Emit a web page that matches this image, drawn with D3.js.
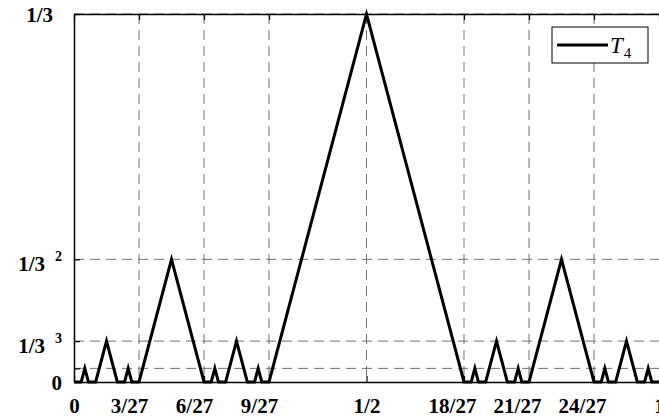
<!DOCTYPE html>
<html>
<head>
<meta charset="utf-8">
<script src="https://cdn.jsdelivr.net/npm/d3@7"></script>
<style>
  html, body { margin: 0; padding: 0; background: #fff; }
  svg { display: block; }
</style>
</head>
<body>
<svg id="chart" width="659" height="418"></svg>
<script>
// ---- data ----
// breakpoints of T_4: x in units of 1/162, y in units of 1/81
const xNumerators = [0,2,3,4,6,9,12,14,15,16,18,27,36,38,39,40,42,45,48,50,51,52,54,81,
                     108,110,111,112,114,117,120,122,123,124,126,135,144,146,147,148,150,153,156,158,159,160,162];
const yNumerators = [0,0,1,0,0,3,0,0,1,0,0,9,0,0,1,0,0,3,0,0,1,0,0,27,
                     0,0,1,0,0,3,0,0,1,0,0,9,0,0,1,0,0,3,0,0,1,0,0];
const xDenominator = 162;
const yDenominator = 81;

const xTickNumerators = [0, 6, 12, 18, 27, 36, 42, 48, 54]; // over 54
const xTickDenominator = 54;
const xTickLabels = ["0", "3/27", "6/27", "9/27", "1/2", "18/27", "21/27", "24/27", "1"];

const yTickNumerators = [0, 1, 3, 9, 27]; // over 81
const yTickLabels = ["0", "", "1/3", "1/3", "1/3"];
const yTickSupers = ["", "", "3", "2", ""];

const seriesName = "T";
const seriesSub = "4";

// ---- layout ----
const W = 659, H = 418;
const margin = { left: 74, top: 14, right: 0, bottom: 36 };
const pw = W - margin.left - margin.right;
const ph = H - margin.top - margin.bottom;

const svg = d3.select("#chart");
const g = svg.append("g").attr("transform", `translate(${margin.left},${margin.top})`);

const x = d3.scaleLinear().domain([0, 1]).range([0, pw]);
const y = d3.scaleLinear().domain([0, 1 / 3]).range([ph, 0]);

const xTicks = xTickNumerators.map(n => n / xTickDenominator);
const yTicks = yTickNumerators.map(n => n / yDenominator);

// grid
const gridColor = "#707070";
g.append("g").selectAll("line").data(xTicks.filter(v => v > 0 && v < 1)).join("line")
  .attr("x1", d => x(d)).attr("x2", d => x(d))
  .attr("y1", 0).attr("y2", ph)
  .attr("stroke", gridColor).attr("stroke-width", 1).attr("stroke-dasharray", "10,6");
g.append("g").selectAll("line").data(yTicks.filter(v => v > 0)).join("line")
  .attr("x1", 0).attr("x2", pw)
  .attr("y1", d => y(d)).attr("y2", d => y(d))
  .attr("stroke", gridColor).attr("stroke-width", 1).attr("stroke-dasharray", "10,6");

// data line
const pts = xNumerators.map((n, i) => [n / xDenominator, yNumerators[i] / yDenominator]);
const line = d3.line().x(d => x(d[0])).y(d => y(d[1]));
g.append("path").datum(pts)
  .attr("d", line)
  .attr("fill", "none").attr("stroke", "#000").attr("stroke-width", 3)
  .attr("stroke-linejoin", "miter");

// axes (inward ticks)
const labelFont = "'Liberation Serif', 'Times New Roman', serif";
const xAxis = d3.axisBottom(x).tickValues(xTicks).tickFormat((d, i) => xTickLabels[i])
  .tickSizeInner(-6).tickSizeOuter(0).tickPadding(16);
const xAxisG = g.append("g").attr("transform", `translate(0,${ph})`).call(xAxis);
xAxisG.select(".domain").attr("stroke", "#000").attr("stroke-width", 1.5);
xAxisG.selectAll(".tick line").attr("stroke", "#000").attr("stroke-width", 1.2);
xAxisG.selectAll(".tick text")
  .attr("font-family", labelFont).attr("font-weight", "bold").attr("font-size", 21)
  .attr("fill", "#000")
  .attr("dx", (d, i) => xTickLabels[i].includes("/27") ? (xTickLabels[i].length > 4 ? -12 : -10) : 0);

const xTopAxis = d3.axisTop(x).tickValues(xTicks).tickFormat("").tickSizeInner(-6).tickSizeOuter(0);
const xTopG = g.append("g").call(xTopAxis);
xTopG.select(".domain").attr("stroke", "#000").attr("stroke-width", 1.5);
xTopG.selectAll(".tick line").attr("stroke", "#000").attr("stroke-width", 1.2);

const yAxis = d3.axisLeft(y).tickValues(yTicks).tickFormat("").tickSizeInner(-6).tickSizeOuter(0);
const yAxisG = g.append("g").call(yAxis);
yAxisG.select(".domain").attr("stroke", "#000").attr("stroke-width", 1.5);
yAxisG.selectAll(".tick line").attr("stroke", "#000").attr("stroke-width", 1.2);

// y tick labels with superscripts
yTicks.forEach((v, i) => {
  if (!yTickLabels[i]) return;
  const hasSup = yTickSupers[i] !== "";
  const isTop = i === yTicks.length - 1;
  const t = g.append("text")
    .attr("font-family", labelFont).attr("font-weight", "bold").attr("font-size", 21)
    .attr("fill", "#000")
    .attr("text-anchor", "end")
    .attr("x", isTop ? -21 : -12)
    .attr("y", y(v) + (hasSup ? 12 : 7.5));
  t.append("tspan").text(yTickLabels[i]);
  if (hasSup) {
    t.append("tspan").attr("dx", 10).attr("dy", -10).attr("font-size", 14).text(yTickSupers[i]);
  }
});

// legend
const lg = svg.append("g").attr("transform", "translate(552,27)");
lg.append("rect").attr("x", 0).attr("y", 0).attr("width", 96).attr("height", 36)
  .attr("fill", "#fff").attr("stroke", "#000").attr("stroke-width", 1);
lg.append("line").attr("x1", 5).attr("x2", 56).attr("y1", 18).attr("y2", 18)
  .attr("stroke", "#000").attr("stroke-width", 3);
const lt = lg.append("text").attr("x", 58).attr("y", 26)
  .attr("font-family", labelFont).attr("font-size", 23).attr("fill", "#000");
lt.append("tspan").attr("font-style", "italic").text(seriesName);
lt.append("tspan").attr("font-size", 15).attr("dy", 5).attr("dx", 1).text(seriesSub);
</script>
</body>
</html>
